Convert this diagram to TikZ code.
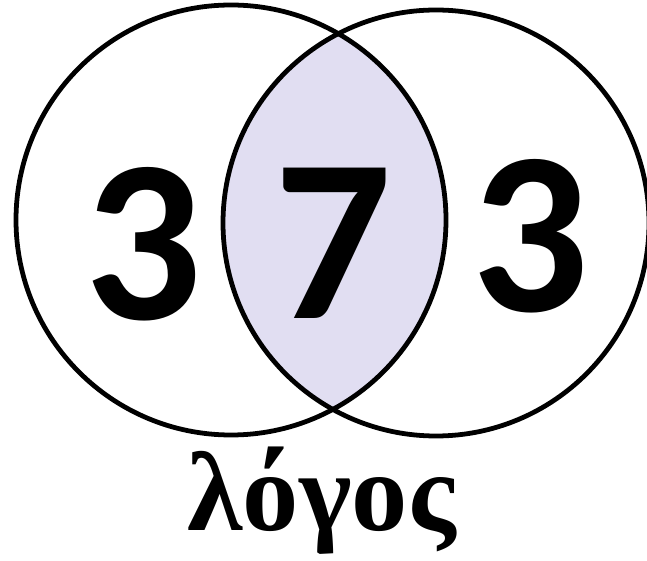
\documentclass[tikz,border=0pt]{standalone}
\usepackage{fontspec}
\setmainfont{Liberation Serif}
\newfontfamily\digitfont{Carlito}
\usetikzlibrary{positioning}
\definecolor{lensfill}{RGB}{225,222,242}
\tikzset{
  ring/.style={draw, line width=3.4pt},
  num/.style={inner sep=0pt, font=\digitfont\bfseries\fontsize{165}{165}\selectfont},
  word/.style={inner sep=0pt, font=\bfseries\fontsize{80}{80}\selectfont},
}
\begin{document}
\begin{tikzpicture}
\useasboundingbox (0,0) rectangle (16.175,14);

\coordinate (cl) at (5.775,8.5);
\coordinate (cr) at (10.9,8.425);

% overlap
\begin{scope}
  \clip (cl) circle (5.375);
  \fill[lensfill] (cr) circle (5.325);
\end{scope}
\draw[ring] (cl) circle (5.375);
\draw[ring] (cr) circle (5.325);

\node[num] (leftnum) at (3.575,7.89) {3};
\node[num] (midnum) at (8.325,7.925) {7};
\node[num] (rightnum) at (13.25,8.09) {3};

\node[word, anchor=base] (logos) at (8.04,0.75) {λόγος};

\end{tikzpicture}
\end{document}
